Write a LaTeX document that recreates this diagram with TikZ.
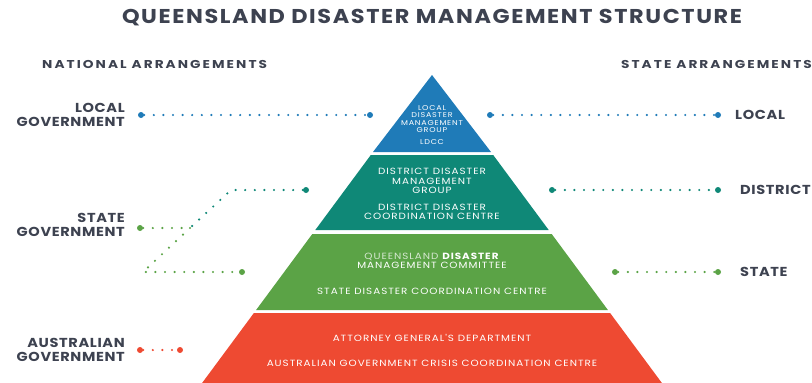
\documentclass[tikz,border=0pt]{standalone}
\usepackage{fontspec}
\setmainfont{Poppins}
\newfontfamily\titlefont[FakeStretch=1.12,LetterSpace=8]{Poppins}
\newfontfamily\labelfont[FakeStretch=1.12,LetterSpace=5]{Poppins}
\newfontfamily\headfont[FakeStretch=1.2,LetterSpace=18]{Poppins}
\newfontfamily\bandfont[FakeStretch=1.15,LetterSpace=11]{Poppins}
\usetikzlibrary{positioning}
\definecolor{ldmg}{HTML}{1F7BB8}
\definecolor{ddmg}{HTML}{0F8877}
\definecolor{qdmc}{HTML}{5BA346}
\definecolor{agov}{HTML}{EE4A32}
\definecolor{ink}{HTML}{3D4250}
\tikzstyle{heading} = [text=ink, font=\headfont\bfseries\fontsize{11.4}{12}\selectfont, inner sep=0pt]
\tikzstyle{level} = [text=ink, font=\labelfont\bfseries\fontsize{13}{14.5}\selectfont, inner sep=0pt, align=right]
\tikzstyle{side} = [text=ink, font=\labelfont\bfseries\fontsize{13}{14.5}\selectfont, inner sep=0pt, anchor=west]
\tikzstyle{band} = [text=white, font=\bandfont\fontsize{9}{9.5}\selectfont, align=center, inner sep=0pt]
\tikzstyle{bigdot} = [circle, inner sep=0pt, minimum size=6pt]
\tikzstyle{dots} = [line width=2.4pt, line cap=round, dash pattern=on 0pt off 9.6pt]

\begin{document}
\begin{tikzpicture}[x=1pt,y=-1pt]
            \useasboundingbox (0,0) rectangle (812,383);
            % pyramid
            \fill[ldmg] (432,75) -- (491,152) -- (373,152) -- cycle;
            \fill[ddmg] (370.8,155) -- (493.2,155) -- (548.7,230) -- (315.3,230) -- cycle;
            \fill[qdmc] (312.3,234) -- (551.7,234) -- (607.9,310) -- (256.1,310) -- cycle;
            \fill[agov] (253.9,313) -- (610.1,313) -- (661.9,383) -- (202.1,383) -- cycle;

            \node (Title) [text=ink, font=\titlefont\bfseries\fontsize{20}{20}\selectfont] at (432,18) {QUEENSLAND DISASTER MANAGEMENT STRUCTURE};
            \node (National) [heading, anchor=west] at (42,64) {NATIONAL ARRANGEMENTS};
            \node (StateArr) [heading, anchor=east] at (812,64) {STATE ARRANGEMENTS};

            % band texts
            \node (LDMG) [band, font=\bandfont\fontsize{7}{7.6}\selectfont] at (432,119) {LOCAL\\DISASTER\\MANAGEMENT\\GROUP};
            \node (LDCC) [band, font=\bandfont\fontsize{7}{7.6}\selectfont] at (432,142) {LDCC};
            \node (DDMG) [band] at (432,181) {DISTRICT DISASTER\\MANAGEMENT\\GROUP};
            \node (DDCC) [band] at (432,212) {DISTRICT DISASTER\\COORDINATION CENTRE};
            \node (QDMC) [band] at (432,261) {{\color{white!75!qdmc}QUEENSLAND} \textbf{DISASTER}\\MANAGEMENT COMMITTEE};
            \node (SDCC) [band] at (432,291) {STATE DISASTER COORDINATION CENTRE};
            \node (AGD) [band] at (432,338) {ATTORNEY GENERAL'S DEPARTMENT};
            \node (AGCCC) [band] at (432,363) {AUSTRALIAN GOVERNMENT CRISIS COORDINATION CENTRE};

            % left labels
            \node (LocalGov) [level, anchor=east] at (125,115) {LOCAL\\GOVERNMENT};
            \node (StateGov) [level, anchor=east] at (125,225) {STATE\\GOVERNMENT};
            \node (AusGov) [level, anchor=east] at (125,350) {AUSTRALIAN\\GOVERNMENT};

            % right labels
            \node (Local) [side] at (735,115) {LOCAL};
            \node (District) [side] at (740,190) {DISTRICT};
            \node (State) [side] at (740,272) {STATE};

            % dots
            \node (lgA) [bigdot, fill=ldmg] at (141,115) {};
            \node (lgB) [bigdot, fill=ldmg] at (370,115) {};
            \node (lcA) [bigdot, fill=ldmg] at (490,115) {};
            \node (lcB) [bigdot, fill=ldmg] at (718,115) {};
            \node (dsA) [bigdot, fill=ddmg] at (552,190) {};
            \node (dsB) [bigdot, fill=ddmg] at (718,190) {};
            \node (stA) [bigdot, fill=qdmc] at (615,272) {};
            \node (stB) [bigdot, fill=qdmc] at (718,272) {};
            \node (sgA) [bigdot, fill=qdmc] at (140,228) {};
            \node (sgD) [bigdot, fill=ddmg] at (306,190) {};
            \node (sgS) [bigdot, fill=qdmc] at (242,272) {};
            \node (agA) [bigdot, fill=agov] at (140,350) {};
            \node (agB) [bigdot, fill=agov] at (180,350) {};
            \coordinate (Split) at (190,228);
            \coordinate (Up) at (231,190);
            \coordinate (Down) at (143,272);

            \draw[dots, ldmg] (lgA) -- (lgB);
            \draw[dots, ldmg] (lcA) -- (lcB);
            \draw[dots, ddmg] (dsA) -- (dsB);
            \draw[dots, qdmc] (stA) -- (stB);
            \draw[dots, qdmc] (sgA) -- (Split);
            \draw[dots, ddmg] (sgD) -- (Up) -- (Split);
            \draw[dots, qdmc] (Split) -- (Down) -- (sgS);
            \draw[dots, agov] (agA) -- (agB);

        \end{tikzpicture}
\end{document}
